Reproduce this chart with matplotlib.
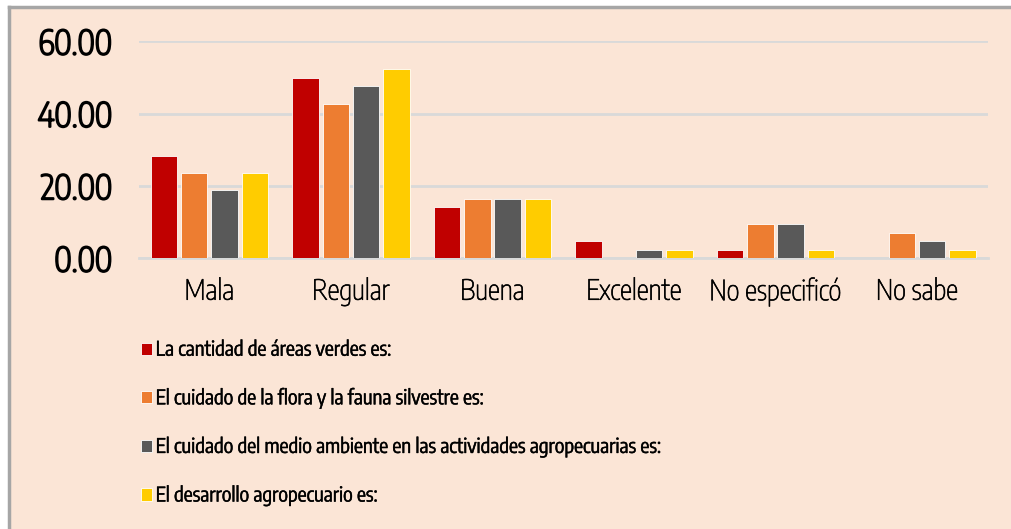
import matplotlib
matplotlib.use("Agg")
import matplotlib.pyplot as plt
from matplotlib.patches import Rectangle
import matplotlib.patheffects as pe
import numpy as np

categorias = ["Mala", "Regular", "Buena", "Excelente", "No especificó", "No sabe"]
series = [
    "La cantidad de áreas verdes es:",
    "El cuidado de la flora y la fauna silvestre es:",
    "El cuidado del medio ambiente en las actividades agropecuarias es:",
    "El desarrollo agropecuario es:",
]
areas_verdes = [28.4, 49.8, 14.1, 4.8, 2.4, 0.0]
flora_fauna = [23.7, 42.7, 16.5, 0.0, 9.5, 7.1]
medio_ambiente = [19.0, 47.6, 16.5, 2.4, 9.5, 4.8]
agropecuario = [23.7, 52.3, 16.5, 2.4, 2.4, 2.4]
valores = [areas_verdes, flora_fauna, medio_ambiente, agropecuario]
colores = ["#C00000", "#ED7D31", "#595959", "#FFCC00"]
yticks = [0, 20, 40, 60]

fondo = "#FBE5D6"
plt.rcParams['font.family'] = ['Encode Sans', 'Roboto', 'DejaVu Sans']

# la fuente instalada es muy delgada, se engrosa con un trazo
grueso = [pe.withStroke(linewidth=1.5, foreground="black")]
normal = [pe.withStroke(linewidth=0.45, foreground="black")]

fig = plt.figure(figsize=(10.12, 5.29), dpi=100)
fig.patch.set_facecolor("white")
fig.patches.append(Rectangle((9/1012, 0), 1.0, 1 - 7/529, transform=fig.transFigure,
                             facecolor=fondo, edgecolor="none", zorder=-5))
fig.lines.append(plt.Line2D([9/1012, 9/1012], [0, 1 - 7/529], transform=fig.transFigure,
                            color="#A6A6A6", lw=2.5, zorder=-4))
fig.lines.append(plt.Line2D([9/1012, 1], [1 - 7/529, 1 - 7/529], transform=fig.transFigure,
                            color="#A6A6A6", lw=2.5, zorder=-4))

ax = fig.add_axes([0.137, 0.5117, 0.976 - 0.137, 0.922 - 0.5117])
ax.set_facecolor("none")

x = np.arange(len(categorias))
slot = 0.214
ancho = 0.187
for i, (vals, col) in enumerate(zip(valores, colores)):
    ax.bar(x + (i - 1.5) * slot, vals, ancho, color=col, edgecolor="white",
           linewidth=0.6, label=series[i], zorder=3)

ax.set_xlim(-0.5, len(categorias) - 0.5)
ax.set_ylim(0, 60)
ax.set_yticks(yticks)
ax.set_yticklabels([f"{v:.2f}" for v in yticks], fontsize=24, color="black",
                   path_effects=grueso)
ax.set_xticks(x)
ax.set_xticklabels(categorias, fontsize=20, color="black", path_effects=normal)
ax.tick_params(axis="both", length=0)
ax.tick_params(axis="y", pad=19)
ax.tick_params(axis="x", pad=14)
ax.grid(axis="y", color="#D9D9D9", lw=2, zorder=0)
for s in ["top", "right", "left"]:
    ax.spines[s].set_visible(False)
ax.spines["bottom"].set_color("#D9D9D9")
ax.spines["bottom"].set_linewidth(2)

leg = fig.legend(loc="upper left", bbox_to_anchor=(0.121, 0.392), frameon=False,
                 prop={'family': ['Encode Sans Condensed', 'Roboto Condensed', 'DejaVu Sans'],
                       'size': 14.5},
                 handlelength=0.55, handleheight=0.55, handletextpad=0.2,
                 labelspacing=1.42)
for t in leg.get_texts():
    t.set_path_effects([pe.withStroke(linewidth=0.3, foreground="black")])

fig.savefig("out.png", dpi=100, facecolor=fig.get_facecolor())
